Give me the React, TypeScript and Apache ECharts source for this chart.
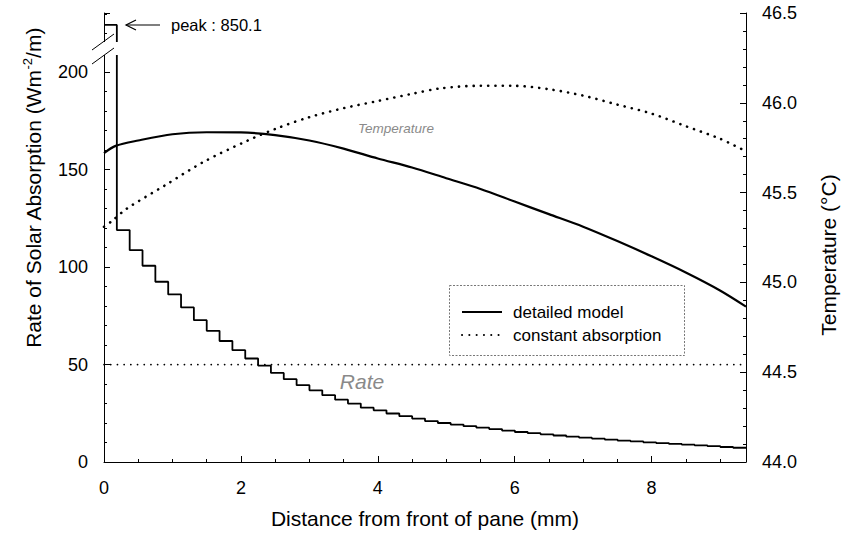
import React, { useEffect, useRef } from "react";
import * as echarts from "echarts";

// ---------- data ----------
// absorption rate per layer (W m^-2 / m), 50 equal layers across the pane
const layerRates = [
  850.1, 119, 108.7, 100.7, 92.5, 86, 79.3, 72.8, 67.3, 62.1,
  57.4, 53.1, 49.5, 45.7, 42.5, 39.4, 36.8, 34.3, 32, 30,
  27.9, 26.5, 24.9, 23.5, 22.3, 21, 20, 19.2, 18.4, 17.6,
  16.9, 16.1, 15.4, 14.8, 14.2, 13.6, 13.0, 12.5, 12.0, 11.5,
  11.0, 10.6, 10.1, 9.7, 9.3, 8.9, 8.5, 8.1, 7.7, 7.3,
];
const paneThickness = 9.38; // mm
const constantRate = 50;

// temperature, detailed model
const detailedX = [0, 0.17, 0.5, 1.0, 1.5, 2.0, 2.5, 3.0, 3.5, 4.0, 4.5, 5.0, 5.5, 6.0, 6.5, 7.0, 7.5, 8.0, 8.5, 9.0, 9.38];
const detailedTemp = [45.72, 45.76, 45.79, 45.825, 45.836, 45.835, 45.82, 45.79, 45.745, 45.69, 45.64, 45.58, 45.52, 45.45, 45.38, 45.31, 45.23, 45.145, 45.055, 44.955, 44.865];

// temperature, constant absorption
const constantX = [0, 0.11, 0.33, 0.89, 1.45, 2.1, 2.54, 3.0, 3.5, 4.0, 4.5, 4.91, 5.5, 5.97, 6.51, 7.0, 7.5, 8.0, 8.5, 9.0, 9.38];
const constantTemp = [45.31, 45.34, 45.41, 45.54, 45.67, 45.79, 45.86, 45.92, 45.97, 46.01, 46.05, 46.08, 46.095, 46.095, 46.075, 46.04, 45.99, 45.94, 45.87, 45.8, 45.73];

const distanceTicks = [0, 2, 4, 6, 8];
const rateTicks = [0, 50, 100, 150, 200];
const tempTicks = [44.0, 44.5, 45.0, 45.5, 46.0, 46.5];

// broken axis: values above BREAK_FROM are drawn at BREAK_DISPLAY
const RATE_AXIS_MAX = 230.4;
const BREAK_FROM = 220;
const BREAK_DISPLAY = 224.3;

const FONT = "'Liberation Sans', Arial, Helvetica, sans-serif";

export default function App() {
  const ref = useRef<HTMLDivElement>(null);

  useEffect(() => {
    document.body.style.margin = "0";
    const chart = echarts.init(ref.current!, undefined, { renderer: "svg" });

    const layerW = paneThickness / layerRates.length;
    const shown = (v: number) => (v > BREAK_FROM ? BREAK_DISPLAY : v);
    const stepData: number[][] = layerRates.map((v, k) => [k * layerW, shown(v)]);
    stepData.push([layerRates.length * layerW, shown(layerRates[layerRates.length - 1])]);

    const axisBase = {
      axisLine: { show: true, lineStyle: { color: "#000", width: 1 } },
      axisTick: { show: true, inside: true, length: 6, lineStyle: { color: "#000" } },
      splitLine: { show: false },
      minorSplitLine: { show: false },
    };

    chart.setOption({
      animation: false,
      textStyle: { fontFamily: FONT },
      grid: { left: 104, right: 95, top: 13, bottom: 81, containLabel: false },
      legend: {
        data: ["detailed model", "constant absorption"],
        orient: "vertical",
        left: 461,
        top: 302,
        itemWidth: 40,
        itemHeight: 14,
        itemGap: 3,
        padding: 0,
        selectedMode: false,
        itemStyle: { opacity: 0 },
        textStyle: { fontSize: 17, color: "#000", lineHeight: 20, fontFamily: FONT, padding: [0, 0, 0, 6] },
      },
      xAxis: {
        type: "value",
        min: 0,
        max: paneThickness,
        interval: 2,
        ...axisBase,
        minorTick: { show: true, splitNumber: 4, length: 3, lineStyle: { color: "#000" } },
        axisLabel: {
          color: "#000",
          fontSize: 18,
          margin: 17,
          showMaxLabel: false,
          formatter: (v: number) => (distanceTicks.includes(v) ? String(v) : ""),
        },
      },
      yAxis: [
        {
          type: "value",
          min: 0,
          max: RATE_AXIS_MAX,
          interval: 50,
          ...axisBase,
          minorTick: { show: true, splitNumber: 5, length: 3, lineStyle: { color: "#000" } },
          axisLabel: {
            color: "#000",
            fontSize: 18,
            margin: 16,
            showMaxLabel: false,
            formatter: (v: number) => (rateTicks.includes(v) ? String(v) : ""),
          },
        },
        {
          type: "value",
          min: 44,
          max: 46.5,
          interval: 0.5,
          position: "right",
          ...axisBase,
          minorTick: { show: true, splitNumber: 5, length: 3, lineStyle: { color: "#000" } },
          axisLabel: {
            color: "#000",
            fontSize: 18,
            margin: 16,
            formatter: (v: number) =>
              tempTicks.some((t) => Math.abs(t - v) < 1e-6) ? v.toFixed(1) : "",
          },
        },
      ],
      series: [
        {
          name: "detailed model",
          type: "line",
          yAxisIndex: 1,
          data: detailedX.map((x, i) => [x, detailedTemp[i]]),
          smooth: 0.3,
          symbol: "none",
          lineStyle: { color: "#000", width: 2.2, type: "solid" },
          itemStyle: { color: "#000" },
          z: 3,
        },
        {
          name: "constant absorption",
          type: "line",
          yAxisIndex: 1,
          data: constantX.map((x, i) => [x, constantTemp[i]]),
          smooth: 0.3,
          symbol: "none",
          lineStyle: { color: "#000", width: 2.6, type: [0.1, 7.2], cap: "round" },
          itemStyle: { color: "#000" },
          z: 3,
        },
        {
          name: "detailed model",
          type: "line",
          yAxisIndex: 0,
          step: "end",
          data: stepData,
          symbol: "none",
          lineStyle: { color: "#000", width: 1.8 },
          itemStyle: { color: "#000" },
          z: 3,
        },
        {
          name: "constant absorption",
          type: "line",
          yAxisIndex: 0,
          data: [
            [0, constantRate],
            [paneThickness, constantRate],
          ],
          symbol: "none",
          lineStyle: { color: "#000", width: 1.7, type: [0.1, 6.6], cap: "round" },
          itemStyle: { color: "#000" },
          z: 3,
        },
      ],
      graphic: [
        // legend frame
        {
          type: "rect",
          shape: { x: 449.5, y: 285.5, width: 235, height: 70 },
          style: { fill: "none", stroke: "#777", lineWidth: 1, lineDash: [2, 1.5] },
          z: 10,
        },
        // axis break mask and slashes
        {
          type: "rect",
          shape: { x: 96, y: 42, width: 24, height: 13 },
          style: { fill: "#fff" },
          z: 100,
        },
        {
          type: "line",
          shape: { x1: 92, y1: 50, x2: 114, y2: 34 },
          style: { stroke: "#000", lineWidth: 1 },
          z: 101,
        },
        {
          type: "line",
          shape: { x1: 92, y1: 64, x2: 114, y2: 48 },
          style: { stroke: "#000", lineWidth: 1 },
          z: 101,
        },
        // peak annotation
        {
          type: "line",
          shape: { x1: 126, y1: 25, x2: 160, y2: 25 },
          style: { stroke: "#000", lineWidth: 1.2 },
          z: 100,
        },
        {
          type: "polyline",
          shape: { points: [[136, 20], [126, 25], [136, 30]] },
          style: { stroke: "#000", lineWidth: 1.2, fill: "none" },
          z: 100,
        },
        {
          type: "text",
          x: 171,
          y: 25,
          style: {
            text: `peak : ${layerRates[0]}`,
            font: `16.5px ${FONT}`,
            fill: "#000",
            verticalAlign: "middle",
            align: "left",
          },
          z: 100,
        },
        // in-plot curve labels
        {
          type: "text",
          x: 396,
          y: 128,
          style: {
            text: "Temperature",
            font: `italic 13.5px ${FONT}`,
            fill: "#8a8a8a",
            align: "center",
            verticalAlign: "middle",
          },
          z: 100,
        },
        {
          type: "text",
          x: 362,
          y: 381,
          style: {
            text: "Rate",
            font: `italic 21px ${FONT}`,
            fill: "#8a8a8a",
            align: "center",
            verticalAlign: "middle",
          },
          z: 100,
        },
        // axis titles
        {
          type: "text",
          x: 425,
          y: 518,
          style: {
            text: "Distance from front of pane (mm)",
            font: `21px ${FONT}`,
            fill: "#000",
            align: "center",
            verticalAlign: "middle",
          },
        },
        {
          type: "text",
          x: 33,
          y: 188,
          rotation: Math.PI / 2,
          style: {
            text: "{n|Rate of Solar Absorption (Wm}{s|-2}{n|/m)}",
            align: "center",
            verticalAlign: "middle",
            fill: "#000",
            rich: {
              n: { fontSize: 21, fontFamily: FONT, lineHeight: 25, fill: "#000" },
              s: { fontSize: 13, fontFamily: FONT, verticalAlign: "top", lineHeight: 13, fill: "#000" },
            },
          },
        },
        {
          type: "text",
          x: 828,
          y: 255,
          rotation: Math.PI / 2,
          style: {
            text: "Temperature (°C)",
            font: `21px ${FONT}`,
            fill: "#000",
            align: "center",
            verticalAlign: "middle",
          },
        },
      ],
    });

    return () => chart.dispose();
  }, []);

  return (
    <div
      ref={ref}
      style={{ position: "absolute", left: 0, top: 0, width: 841, height: 543, background: "#fff" }}
    />
  );
}
